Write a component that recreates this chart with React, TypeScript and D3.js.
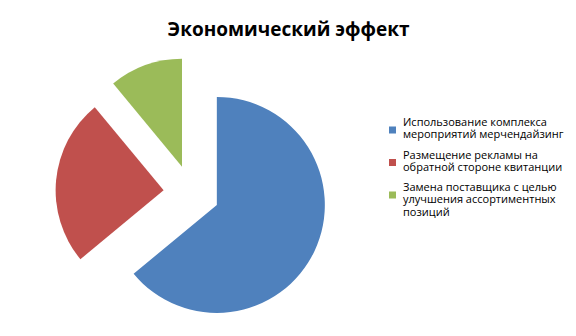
import React from "react";
import * as d3 from "d3";

const title = "Экономический эффект";
const categories = [
  ["Использование комплекса", "мероприятий мерчендайзинг"],
  ["Размещение рекламы на", "обратной стороне квитанции"],
  ["Замена поставщика с целью", "улучшения ассортиментных", "позиций"],
];
const values = [64, 25, 11];
const colors = ["#4F81BD", "#C0504D", "#9BBB59"];

const W = 576;
const H = 336;

export default function App() {
  const cx = 191.5;
  const cy = 193;
  const r = 108;
  const explode = 28;
  const pie = d3.pie<number>().sort(null).startAngle(0).endAngle(2 * Math.PI);
  const arcs = pie(values);
  const arcGen = d3.arc<d3.PieArcDatum<number>>().innerRadius(0).outerRadius(r);

  const legendX = 389;
  const textX = 403;
  const firstBase = 126;
  const lineH = 12.4;
  const entryGap = 32.5;

  return (
    <svg
      width={W}
      height={H}
      style={{ position: "absolute", left: 0, top: 0, background: "#fff" }}
      fontFamily="'Open Sans', Lato, sans-serif"
    >
      <rect x={0} y={0} width={W} height={H} fill="#fff" />
      <text x={288.5} y={36} textAnchor="middle" fontSize={19} fontWeight="bold" fill="#000">
        {title}
      </text>
      {arcs.map((a, i) => {
        const mid = (a.startAngle + a.endAngle) / 2;
        const dx = Math.sin(mid) * explode;
        const dy = -Math.cos(mid) * explode;
        return (
          <path
            key={i}
            d={arcGen(a) || ""}
            transform={`translate(${cx + dx},${cy + dy})`}
            fill={colors[i]}
          />
        );
      })}
      {categories.map((lines, i) => {
        const base = firstBase + i * entryGap;
        return (
          <g key={i}>
            <rect x={legendX} y={base + 0.5} width={7} height={7} fill={colors[i]} />
            {lines.map((l, j) => (
              <text key={j} x={textX} y={base + j * lineH} fontSize={11} fill="#000">
                {l}
              </text>
            ))}
          </g>
        );
      })}
    </svg>
  );
}
